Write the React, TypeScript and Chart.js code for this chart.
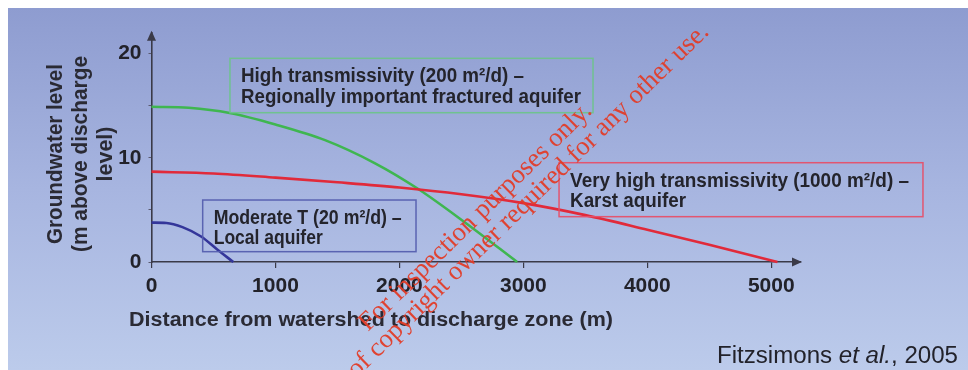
import { useEffect, useRef } from 'react';
import { Chart, registerables } from 'chart.js';

Chart.register(...registerables);

// ---- data ----
const blueX = [0, 120, 250, 400, 530, 660];
const blueY = [3.78, 3.75, 3.35, 2.45, 1.2, 0];

const greenX = [0, 300, 630, 1000, 1400, 1800, 2140, 2540, 2950];
const greenY = [14.9, 14.8, 14.3, 13.2, 11.7, 9.5, 7.1, 3.7, 0];

const redX = [0, 500, 1000, 1500, 2000, 2500, 3000, 3500, 4000, 4500, 5050];
const redY = [8.67, 8.5, 8.1, 7.65, 7.15, 6.5, 5.65, 4.5, 3.1, 1.65, 0];

const xTicks = [0, 1000, 2000, 3000, 4000, 5000];
const yTicks = [0, 5, 10, 15, 20];
const yLabelled = [0, 10, 20];

const xTitle = 'Distance from watershed to discharge zone (m)';
const yTitleLines = ['Groundwater level', '(m above discharge', 'level)'];
const watermarkLines = [
  'For inspection purposes only.',
  'Consent of copyright owner required for any other use.',
];

// annotation boxes (data coordinates)
const boxes = [
  {
    lines: ['High transmissivity (200 m²/d) –', 'Regionally important fractured aquifer'],
    widths: [283, 340],
    x0: 633, x1: 3562, y0: 19.55, y1: 14.33,
    color: 'rgba(110,195,140,0.95)',
  },
  {
    lines: ['Moderate T (20 m²/d) –', 'Local aquifer'],
    widths: [188, 109],
    x0: 413, x1: 2134, y0: 5.95, y1: 0.99,
    color: 'rgba(85,95,175,0.95)',
  },
  {
    lines: ['Very high transmissivity (1000 m²/d) –', 'Karst aquifer'],
    widths: [339, 116],
    x0: 3288, x1: 6224, y0: 9.53, y1: 4.35,
    color: 'rgba(230,80,105,0.95)',
  },
];

const SANS = '"Liberation Sans", Arial, Helvetica, sans-serif';
const SERIF = '"Liberation Serif", "Times New Roman", serif';

function fitText(
  ctx: CanvasRenderingContext2D,
  text: string,
  x: number,
  y: number,
  width: number,
  font: string,
  align: CanvasTextAlign = 'left'
) {
  ctx.save();
  ctx.font = font;
  const w = ctx.measureText(text).width;
  const s = width / w;
  ctx.translate(x, y);
  ctx.scale(s, 1);
  ctx.textAlign = align;
  ctx.textBaseline = 'alphabetic';
  ctx.fillText(text, 0, 0);
  ctx.restore();
}

const decorPlugin = {
  id: 'decor',
  afterDraw(chart: any) {
    const { ctx, chartArea } = chart;
    const xs = chart.scales.x;
    const ys = chart.scales.y;
    ctx.save();

    // axis arrows
    ctx.fillStyle = '#3a3a48';
    ctx.beginPath();
    ctx.moveTo(chartArea.right + 1, chartArea.bottom);
    ctx.lineTo(chartArea.right - 9, chartArea.bottom - 4.5);
    ctx.lineTo(chartArea.right - 9, chartArea.bottom + 4.5);
    ctx.closePath();
    ctx.fill();
    ctx.beginPath();
    ctx.moveTo(chartArea.left, chartArea.top - 2);
    ctx.lineTo(chartArea.left - 4.5, chartArea.top + 8);
    ctx.lineTo(chartArea.left + 4.5, chartArea.top + 8);
    ctx.closePath();
    ctx.fill();

    // annotation boxes
    for (const b of boxes) {
      const px0 = xs.getPixelForValue(b.x0);
      const px1 = xs.getPixelForValue(b.x1);
      const py0 = ys.getPixelForValue(b.y0);
      const py1 = ys.getPixelForValue(b.y1);
      ctx.strokeStyle = b.color;
      ctx.lineWidth = 1.5;
      ctx.strokeRect(px0, py0, px1 - px0, py1 - py0);
      ctx.fillStyle = '#24242c';
      b.lines.forEach((t, i) => {
        fitText(ctx, t, px0 + 11, py0 + 24 + i * 20.3, b.widths[i], `bold 20px ${SANS}`);
      });
    }

    // y title (rotated)
    ctx.fillStyle = '#2a2a34';
    const yBase = [61.5, 86.5, 111.5];
    const yLen = [180, 196, 55];
    yTitleLines.forEach((t, i) => {
      ctx.save();
      ctx.translate(yBase[i], 154);
      ctx.rotate(-Math.PI / 2);
      fitText(ctx, t, 0, 0, yLen[i], `bold 22px ${SANS}`, 'center');
      ctx.restore();
    });

    // x title
    fitText(ctx, xTitle, 371, 326, 484, `bold 20px ${SANS}`, 'center');

    // citation
    ctx.fillStyle = '#22222a';
    const parts = [
      { t: 'Fitzsimons ', f: `23px ${SANS}` },
      { t: 'et al.', f: `italic 23px ${SANS}` },
      { t: ', 2005', f: `23px ${SANS}` },
    ];
    let total = 0;
    const ws = parts.map((p) => {
      ctx.font = p.f;
      const w = ctx.measureText(p.t).width;
      total += w;
      return w;
    });
    const sc = 241 / total;
    let cx = 717;
    parts.forEach((p, i) => {
      ctx.save();
      ctx.font = p.f;
      ctx.translate(cx, 363);
      ctx.scale(sc, 1);
      ctx.textAlign = 'left';
      ctx.textBaseline = 'alphabetic';
      ctx.fillText(p.t, 0, 0);
      ctx.restore();
      cx += ws[i] * sc;
    });

    // watermark
    ctx.fillStyle = 'rgba(225,60,40,0.95)';
    const ang = Math.atan2(112 - 332, 593 - 368);
    ctx.font = `100px ${SERIF}`;
    const w1 = ctx.measureText(watermarkLines[0]).width;
    const len1 = Math.hypot(593 - 368, 112 - 332);
    const size = (100 * len1) / w1;
    ctx.font = `${size}px ${SERIF}`;
    ctx.textBaseline = 'alphabetic';
    ctx.save();
    ctx.translate(368, 332);
    ctx.rotate(ang);
    ctx.textAlign = 'left';
    ctx.fillText(watermarkLines[0], 0, 0);
    ctx.restore();
    ctx.save();
    ctx.translate(710, 33);
    ctx.rotate(ang);
    ctx.textAlign = 'right';
    ctx.fillText(watermarkLines[1], 0, 0);
    ctx.restore();

    ctx.restore();
  },
};

export default function App() {
  const ref = useRef<HTMLCanvasElement | null>(null);

  useEffect(() => {
    if (!ref.current) return;
    const toPts = (xa: number[], ya: number[]) => xa.map((v, i) => ({ x: v, y: ya[i] }));
    const lineDs = (xa: number[], ya: number[], color: string) => ({
      data: toPts(xa, ya),
      borderColor: color,
      borderWidth: 2.6,
      pointRadius: 0,
      fill: false,
      cubicInterpolationMode: 'monotone' as const,
      clip: false as any,
    });
    const tickFont = { family: SANS, size: 21, weight: 'bold' as const };
    const chart = new Chart(ref.current, {
      type: 'line',
      data: {
        datasets: [
          lineDs(redX, redY, '#e12a3a'),
          lineDs(greenX, greenY, '#3fb650'),
          lineDs(blueX, blueY, '#34369a'),
        ],
      },
      options: {
        animation: false,
        responsive: false,
        maintainAspectRatio: false,
        devicePixelRatio: 1,
        layout: { padding: { top: 32.8, right: 167, left: 0, bottom: 0 } },
        plugins: { legend: { display: false }, tooltip: { enabled: false } },
        scales: {
          x: {
            type: 'linear',
            min: 0,
            max: 5240,
            afterBuildTicks: (s: any) => {
              s.ticks = xTicks.map((v) => ({ value: v }));
            },
            afterFit: (s: any) => {
              s.height = 108;
            },
            ticks: {
              font: tickFont,
              color: '#22222a',
              padding: 6,
              maxRotation: 0,
              autoSkip: false,
              callback: (v: any) => String(v),
            },
            grid: {
              display: true,
              drawOnChartArea: false,
              drawTicks: true,
              tickLength: 6,
              color: '#3a3a48',
              lineWidth: 1.2,
            },
            border: { display: true, color: '#3a3a48', width: 1.6 },
          },
          y: {
            type: 'linear',
            min: 0,
            max: 22,
            afterBuildTicks: (s: any) => {
              s.ticks = yTicks.map((v) => ({ value: v }));
            },
            afterFit: (s: any) => {
              s.width = 151.5;
            },
            ticks: {
              font: tickFont,
              color: '#22222a',
              padding: 7,
              autoSkip: false,
              callback: (v: any) => (yLabelled.includes(Number(v)) ? String(v) : ''),
            },
            grid: {
              display: true,
              drawOnChartArea: false,
              drawTicks: true,
              tickLength: 3,
              color: '#5a5a70',
              lineWidth: 1,
            },
            border: { display: true, color: '#3a3a48', width: 1.6 },
          },
        },
      },
      plugins: [decorPlugin],
    });
    return () => chart.destroy();
  }, []);

  return (
    <>
      <div
        style={{
          position: 'fixed',
          left: 8,
          top: 8,
          right: 0,
          bottom: 0,
          background: 'linear-gradient(to bottom, #8e9cd0 0%, #a7b5e0 50%, #bccbeb 100%)',
        }}
      />
      <canvas
        ref={ref}
        width={968}
        height={370}
        style={{ position: 'fixed', left: 0, top: 0, width: 968, height: 370 }}
      />
    </>
  );
}
